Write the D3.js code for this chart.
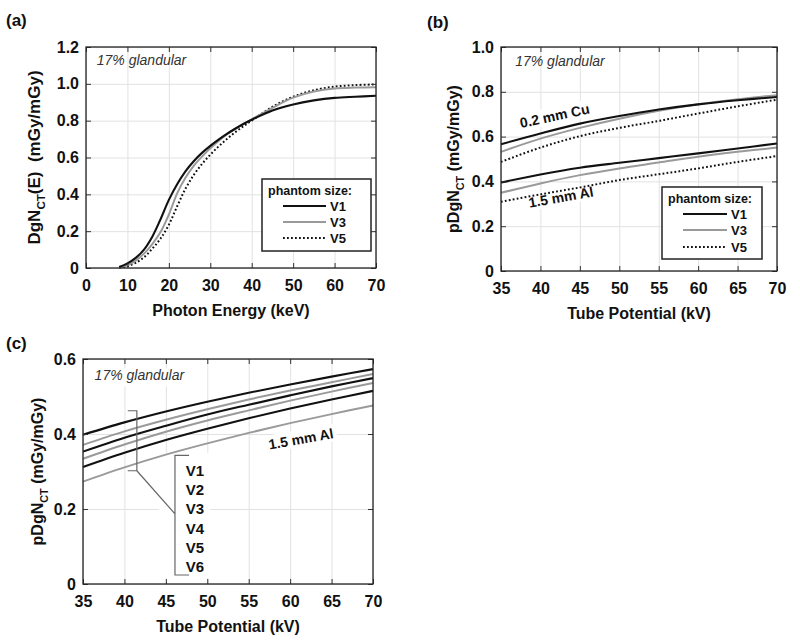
<!DOCTYPE html>
<html><head><meta charset="utf-8">
<script src="https://cdn.jsdelivr.net/npm/d3@7"></script>
<style>
body{margin:0;background:#fff;}
svg{font-family:"Liberation Sans",Arial,sans-serif;}
</style></head><body>
<svg id="chart" width="800" height="640"></svg>
<script>
// ---------- DATA ----------
// Panel (a): photon energy (keV) vs DgN_CT(E)
const energyKeV = [8,10,12,14,16,18,20,22,24,26,28,30,32,34,36,38,40,45,50,55,60,65,70];
const aV1 = [0.005,0.025,0.055,0.10,0.17,0.265,0.37,0.455,0.525,0.58,0.625,0.663,0.697,0.728,0.756,0.782,0.805,0.855,0.888,0.91,0.924,0.93,0.935];
const aV3 = [0.003,0.015,0.04,0.078,0.13,0.195,0.29,0.405,0.49,0.555,0.605,0.65,0.69,0.725,0.755,0.782,0.807,0.87,0.925,0.958,0.975,0.98,0.982];
const aV5 = [0.002,0.01,0.028,0.058,0.105,0.16,0.235,0.335,0.43,0.505,0.565,0.615,0.66,0.70,0.737,0.77,0.80,0.875,0.93,0.965,0.985,0.993,0.997];
// Panels (b),(c): tube potential (kV)
const tubeKV = [35,40,45,50,55,60,65,70];
const bCuV1 = [0.566,0.614,0.658,0.692,0.721,0.744,0.762,0.777];
const bCuV3 = [0.532,0.591,0.639,0.680,0.715,0.744,0.767,0.785];
const bCuV5 = [0.487,0.551,0.602,0.639,0.670,0.703,0.735,0.765];
const bAlV1 = [0.395,0.431,0.461,0.483,0.504,0.525,0.547,0.569];
const bAlV3 = [0.349,0.391,0.428,0.458,0.484,0.510,0.532,0.551];
const bAlV5 = [0.309,0.342,0.373,0.406,0.432,0.458,0.487,0.513];
const cV1 = [0.398,0.431,0.460,0.486,0.510,0.532,0.553,0.573];
const cV2 = [0.371,0.407,0.438,0.466,0.492,0.516,0.538,0.560];
const cV3 = [0.353,0.390,0.422,0.452,0.478,0.503,0.527,0.549];
const cV4 = [0.334,0.372,0.406,0.436,0.463,0.489,0.513,0.536];
const cV5 = [0.312,0.350,0.384,0.414,0.442,0.468,0.492,0.515];
const cV6 = [0.273,0.311,0.345,0.375,0.403,0.429,0.453,0.476];
// Ticks and labels
const aXTicks = [0,10,20,30,40,50,60,70];
const aYTicks = [0,0.2,0.4,0.6,0.8,1.0,1.2];
const bXTicks = [35,40,45,50,55,60,65,70];
const bYTicks = [0,0.2,0.4,0.6,0.8,1.0];
const cYTicks = [0,0.2,0.4,0.6];
const legendTitle = "phantom size:";
const legendNames = ["V1","V3","V5"];
const cNames = ["V1","V2","V3","V4","V5","V6"];

// ---------- STYLES ----------
const BLACK = {stroke:"#111", width:2.1, dash:null};
const GRAY = {stroke:"#9a9a9a", width:2, dash:null};
const DOT = {stroke:"#111", width:2, dash:"1.8,2.2"};

const svg = d3.select("#chart");

function fmtY(d){ return d===0 ? "0" : d3.format(".1f")(d); }

function panel(o){
  const g = svg.append("g");
  const x = d3.scaleLinear().domain(o.xd).range([o.l,o.r]);
  const y = d3.scaleLinear().domain(o.yd).range([o.b,o.t]);
  g.append("g").attr("transform",`translate(0,${o.b})`)
    .call(d3.axisBottom(x).tickValues(o.xt).tickSize(-(o.b-o.t)).tickFormat(""))
    .call(s=>{s.select(".domain").remove(); s.selectAll("line").attr("stroke","#e2e2e2").attr("stroke-width",1);});
  g.append("g").attr("transform",`translate(${o.l},0)`)
    .call(d3.axisLeft(y).tickValues(o.yt).tickSize(-(o.r-o.l)).tickFormat(""))
    .call(s=>{s.select(".domain").remove(); s.selectAll("line").attr("stroke","#e2e2e2").attr("stroke-width",1);});
  return {g,x,y};
}

function frame(p,o){
  const g=p.g, x=p.x, y=p.y;
  const tl=5;
  const ax = [
    [d3.axisBottom(x).tickValues(o.xt).tickSize(-tl).tickFormat(""), `translate(0,${o.b})`],
    [d3.axisTop(x).tickValues(o.xt).tickSize(-tl).tickFormat(""), `translate(0,${o.t})`],
    [d3.axisLeft(y).tickValues(o.yt).tickSize(-tl).tickFormat(""), `translate(${o.l},0)`],
    [d3.axisRight(y).tickValues(o.yt).tickSize(-tl).tickFormat(""), `translate(${o.r},0)`]
  ];
  ax.forEach(([a,t])=>{
    g.append("g").attr("transform",t).call(a)
      .call(s=>{s.select(".domain").remove(); s.selectAll("line").attr("stroke","#333").attr("stroke-width",1);});
  });
  g.append("rect").attr("x",o.l).attr("y",o.t).attr("width",o.r-o.l).attr("height",o.b-o.t)
    .attr("fill","none").attr("stroke","#222").attr("stroke-width",1.3);
  g.append("g").attr("transform",`translate(0,${o.b})`)
    .call(d3.axisBottom(x).tickValues(o.xt).tickSize(0).tickPadding(12).tickFormat(d3.format("d")))
    .call(s=>{s.select(".domain").remove(); s.selectAll("text").attr("font-size",16).attr("font-weight","bold").attr("fill","#111").attr("font-family","Liberation Sans, Arial, sans-serif");});
  g.append("g").attr("transform",`translate(${o.l},0)`)
    .call(d3.axisLeft(y).tickValues(o.yt).tickSize(0).tickPadding(7).tickFormat(fmtY))
    .call(s=>{s.select(".domain").remove(); s.selectAll("text").attr("font-size",16).attr("font-weight","bold").attr("fill","#111").attr("font-family","Liberation Sans, Arial, sans-serif");});
  g.append("text").attr("x",(o.l+o.r)/2).attr("y",o.b+48).attr("text-anchor","middle")
    .attr("font-size",16).attr("font-weight","bold").attr("fill","#111").text(o.xTitle);
  const yt = g.append("text").attr("transform",`translate(${o.yTitleX},${(o.t+o.b)/2}) rotate(-90)`)
    .attr("text-anchor","middle").attr("font-size",o.yFs).attr("font-weight","bold").attr("fill","#111")
    .style("white-space","pre");
  yt.append("tspan").text(o.yTitle[0]);
  yt.append("tspan").attr("font-size",o.yFs*0.68).attr("dy",o.yFs*0.3).text("CT");
  yt.append("tspan").attr("dy",-o.yFs*0.3).text(o.yTitle[1]);
  g.append("text").attr("x",o.letterX).attr("y",o.letterY).attr("font-size",17).attr("font-weight","bold").attr("fill","#111").text(o.letter);
}

function curve(p,xs,ys,st){
  const line = d3.line().x((d,i)=>p.x(xs[i])).y(d=>p.y(d)).curve(d3.curveCatmullRom.alpha(0.5));
  p.g.append("path").datum(ys).attr("d",line).attr("fill","none")
    .attr("stroke",st.stroke).attr("stroke-width",st.width)
    .attr("stroke-dasharray",st.dash).attr("stroke-linejoin","round");
}

function glandular(p,xv,yv){
  p.g.append("text").attr("x",p.x(xv)).attr("y",p.y(yv)).attr("font-size",14).attr("font-style","italic")
    .attr("fill","#333").text("17% glandular");
}

function rotLabel(p,xv,yv,ang,bgW){
  const gg = p.g.append("g").attr("transform",`translate(${p.x(xv)},${p.y(yv)}) rotate(${ang})`);
  gg.append("rect").attr("x",-bgW/2).attr("y",-9).attr("width",bgW).attr("height",17).attr("fill","#fff");
  return gg;
}

function legend(p,bx,by,bw,bh,lx0,lx1,rows){
  const g=p.g;
  g.append("rect").attr("x",bx).attr("y",by).attr("width",bw).attr("height",bh)
    .attr("fill","#fff").attr("stroke","#222").attr("stroke-width",1.5);
  g.append("text").attr("x",bx+6).attr("y",by+15.5).attr("font-size",12.5).attr("font-weight","bold").attr("fill","#111").text(legendTitle);
  const st=[BLACK,GRAY,DOT];
  legendNames.forEach((n,i)=>{
    const yy = by+ rows[i];
    g.append("line").attr("x1",lx0).attr("x2",lx1).attr("y1",yy).attr("y2",yy)
      .attr("stroke",st[i].stroke).attr("stroke-width",st[i].width).attr("stroke-dasharray",st[i].dash);
    g.append("text").attr("x",lx1+4).attr("y",yy+5).attr("font-size",13).attr("font-weight","bold").attr("fill","#111").text(n);
  });
}

// ---------- PANEL A ----------
const oA = {l:86,r:376,t:47,b:268,xd:[0,70],yd:[0,1.2],xt:aXTicks,yt:aYTicks,
  xTitle:"Photon Energy (keV)",yTitle:["DgN","(E)\u00A0\u00A0(mGy/mGy)"],yTitleX:40,yFs:17,letter:"(a)",letterX:6,letterY:26};
const pA = panel(oA);
glandular(pA,2.6,1.1);
curve(pA,energyKeV,aV5,DOT);
curve(pA,energyKeV,aV3,GRAY);
curve(pA,energyKeV,aV1,BLACK);
legend(pA,262,179,109,72,283,326,[27,43,59]);
frame(pA,oA);

// ---------- PANEL B ----------
const oB = {l:501,r:777,t:47,b:271,xd:[35,70],yd:[0,1],xt:bXTicks,yt:bYTicks,
  xTitle:"Tube Potential (kV)",yTitle:["pDgN","\u00A0(mGy/mGy)"],yTitleX:459,yFs:16,letter:"(b)",letterX:427,letterY:28};
const pB = panel(oB);
glandular(pB,36.8,0.915);
const cuL = rotLabel(pB,41.8,0.693,-12,74);
const alL = rotLabel(pB,42.6,0.33,-10,72);
[[bCuV5,DOT],[bCuV3,GRAY],[bCuV1,BLACK],[bAlV5,DOT],[bAlV3,GRAY],[bAlV1,BLACK]].forEach(([d,s])=>curve(pB,tubeKV,d,s));
cuL.append("text").attr("text-anchor","middle").attr("y",5).attr("font-size",14).attr("font-weight","bold").attr("fill","#111").text("0.2 mm Cu");
alL.append("text").attr("text-anchor","middle").attr("y",5).attr("font-size",14).attr("font-weight","bold").attr("fill","#111").text("1.5 mm Al");
legend(pB,662,187,100,72,683,727,[27,43,60]);
frame(pB,oB);

// ---------- PANEL C ----------
const oC = {l:83,r:373,t:359,b:584,xd:[35,70],yd:[0,0.6],xt:bXTicks,yt:cYTicks,
  xTitle:"Tube Potential (kV)",yTitle:["pDgN","\u00A0(mGy/mGy)"],yTitleX:43,yFs:16,letter:"(c)",letterX:6,letterY:349};
const pC = panel(oC);
pC.g.append("rect").attr("x",pC.x(36.2)).attr("y",pC.y(0.575)).attr("width",94).attr("height",18).attr("fill","#fff");
glandular(pC,36.4,0.545);
const alC = rotLabel(pC,61.3,0.387,-10,72);
pC.g.append("rect").attr("x",pC.x(44.2)).attr("y",pC.y(0.35)).attr("width",pC.x(50.3)-pC.x(44.2)).attr("height",pC.y(0.015)-pC.y(0.35)).attr("fill","#fff");
const cSeries=[cV1,cV2,cV3,cV4,cV5,cV6];
cSeries.forEach((d,i)=>curve(pC,tubeKV,d,i%2===0?BLACK:GRAY));
alC.append("text").attr("text-anchor","middle").attr("y",5).attr("font-size",14).attr("font-weight","bold").attr("fill","#111").text("1.5 mm Al");
const bk = d3.path();
bk.moveTo(pC.x(40.4),pC.y(0.462)); bk.lineTo(pC.x(41.5),pC.y(0.462)); bk.lineTo(pC.x(41.5),pC.y(0.302)); bk.lineTo(pC.x(40.4),pC.y(0.302));
bk.moveTo(pC.x(41.5),pC.y(0.302)); bk.lineTo(pC.x(46.1),pC.y(0.187));
bk.moveTo(pC.x(47.8),pC.y(0.343)); bk.lineTo(pC.x(46.1),pC.y(0.343)); bk.lineTo(pC.x(46.1),pC.y(0.024)); bk.lineTo(pC.x(47.8),pC.y(0.024));
pC.g.append("path").attr("d",bk.toString()).attr("fill","none").attr("stroke","#666").attr("stroke-width",1.2);
cNames.forEach((n,i)=>{
  pC.g.append("text").attr("x",pC.x(47.4)).attr("y",pC.y(0.303-i*0.0508)+6).attr("font-size",15).attr("font-weight","bold").attr("fill","#111").text(n);
});
frame(pC,oC);
</script>
</body></html>
